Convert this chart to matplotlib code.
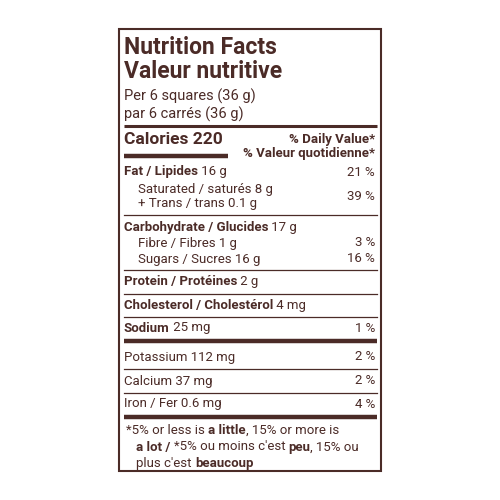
import matplotlib.pyplot as plt
from matplotlib import font_manager

BROWN = "#4b2b27"
names = [f.name for f in font_manager.fontManager.ttflist]
FAM = ["Liberation Sans Narrow"] if "Liberation Sans Narrow" in names else ["Roboto"]

# label data
title = ["Nutrition Facts", "Valeur nutritive"]
serving = ["Per 6 squares (36 g)", "par 6 carrés (36 g)"]
calories = 220
# (bold part, regular part, y, indent, percent)
rows = [
    ("Fat / Lipides", " 16 g", 172, 0, "21 %"),
    ("", "Saturated / saturés 8 g", 189, 14, ""),
    ("", "+ Trans / trans 0.1 g", 204, 14, ""),
    ("Carbohydrate / Glucides", " 17 g", 227, 0, ""),
    ("", "Fibre / Fibres 1 g", 243, 14, "3 %"),
    ("", "Sugars / Sucres 16 g", 259, 14, "16 %"),
    ("Protein / Protéines", " 2 g", 282, 0, ""),
    ("Cholesterol / Cholestérol", " 4 mg", 305, 0, ""),
    ("Sodium", " 25 mg", 328, 0, "1 %"),
    ("", "Potassium 112 mg", 357, 0, "2 %"),
    ("", "Calcium 37 mg", 381, 0, "2 %"),
    ("", "Iron / Fer 0.6 mg", 404, 0, "4 %"),
]
combined_pct = ("39 %", 197)
thin_lines = [215, 270, 294, 317, 369, 393]
thick_lines = [(126, 2.2), (341, 3.2), (417, 3.2)]
footnote = [
    [("*5% or less is ", False), ("a little", True), (", 15% or more is", False)],
    [("a lot / ", True), ("*5% ou moins c'est ", False), ("peu", True), (", 15% ou", False)],
    [("plus c'est ", False), ("beaucoup", True)],
]
foot_y = [430, 447, 463]

fig = plt.figure(figsize=(5, 5), dpi=100)
ax = fig.add_axes([0, 0, 1, 1])
ax.set_xlim(0, 500)
ax.set_ylim(500, 0)
ax.axis("off")
fig.canvas.draw()
renderer = fig.canvas.get_renderer()

L, R = 124, 375


def segs(x, y, parts, size):
    for txt, bold in parts:
        t = ax.text(x, y, txt, fontsize=size, family=FAM, color=BROWN,
                    fontweight="bold" if bold else "normal", va="center")
        bb = t.get_window_extent(renderer).transformed(ax.transData.inverted())
        x = bb.x1


ax.add_patch(plt.Rectangle((119, 29), 262, 442, fill=False, ec=BROWN, lw=1.5))
for s, y in zip(title, [47, 72]):
    ax.text(L, y, s, fontsize=16.5, family=FAM, fontweight="bold", color=BROWN, va="center")
for s, y in zip(serving, [96, 114]):
    ax.text(L, y, s, fontsize=10.5, family=FAM, color=BROWN, va="center")

segs(L, 139, [(f"Calories {calories}", True)], 12.5)
ax.plot([L, 228], [156, 156], color=BROWN, lw=3.2, solid_capstyle="butt")
ax.text(R, 139, "% Daily Value*", fontsize=9.5, family=FAM, fontweight="bold",
        color=BROWN, va="center", ha="right")
ax.text(R, 154, "% Valeur quotidienne*", fontsize=9.5, family=FAM, fontweight="bold",
        color=BROWN, va="center", ha="right")

for bold, reg, y, ind, pct in rows:
    segs(L + ind, y, [(bold, True), (reg, False)], 9.5)
    if pct:
        ax.text(R, y, pct, fontsize=9.5, family=FAM, color=BROWN, va="center", ha="right")
ax.text(R, combined_pct[1], combined_pct[0], fontsize=9.5, family=FAM, color=BROWN,
        va="center", ha="right")

for y in thin_lines:
    ax.plot([L, 377], [y, y], color=BROWN, lw=0.9)
for y, w in thick_lines:
    ax.plot([L, 377], [y, y], color=BROWN, lw=w, solid_capstyle="butt")

for parts, y, x in zip(footnote, foot_y, [L + 2, L + 12, L + 12]):
    segs(x, y, parts, 9.5)

fig.savefig("out.png", dpi=100)
